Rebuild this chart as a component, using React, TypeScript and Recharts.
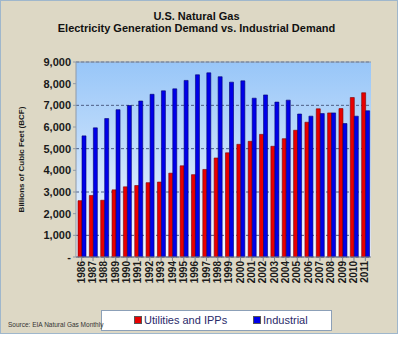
import { BarChart, Bar, XAxis, YAxis, CartesianGrid, ReferenceLine } from 'recharts'

const years = [
  '1986', '1987', '1988', '1989', '1990', '1991', '1992', '1993', '1994',
  '1995', '1996', '1997', '1998', '1999', '2000', '2001', '2002', '2003',
  '2004', '2005', '2006', '2007', '2008', '2009', '2010', '2011',
]

const utilities = [
  2600, 2840, 2620, 3100, 3240, 3300, 3430, 3460, 3870, 4210, 3800, 4040, 4570,
  4810, 5200, 5340, 5660, 5110, 5460, 5850, 6220, 6840, 6650, 6850, 7360, 7580,
]

const industrial = [
  5590, 5960, 6390, 6800, 6990, 7200, 7510, 7670, 7760, 8150, 8410, 8500, 8320,
  8070, 8130, 7330, 7480, 7150, 7240, 6600, 6500, 6620, 6650, 6160, 6500, 6750,
]

const yTicks = [0, 1000, 2000, 3000, 4000, 5000, 6000, 7000, 8000, 9000]

const legendItems = [
  { label: 'Utilities and IPPs', color: '#e80000' },
  { label: 'Industrial', color: '#0000e8' },
]

const data = years.map((y, i) => ({ year: y, util: utilities[i], ind: industrial[i] }))

const font = '"Liberation Sans", Arial, sans-serif'

function fmtY(v: number): string {
  return v === 0 ? '-' : v.toLocaleString('en-US')
}

export default function App() {
  return (
    <div style={{ position: 'fixed', left: 0, top: 0, width: 400, height: 337, background: '#fff' }}>
      <div
        style={{
          position: 'absolute',
          left: 0,
          top: 0,
          width: 396,
          height: 332,
          background: '#ddd8c5',
          border: '1px solid #9fb7cc',
          fontFamily: font,
        }}
      >
        <div
          style={{
            position: 'absolute',
            left: 0,
            width: 391,
            top: 9,
            textAlign: 'center',
            fontWeight: 'bold',
            fontSize: 11,
            lineHeight: '12px',
            color: '#111',
          }}
        >
          <div>U.S. Natural Gas</div>
          <div>Electricity Generation Demand vs. Industrial Demand</div>
        </div>

        <BarChart
          width={396}
          height={332}
          data={data}
          margin={{ top: 61, right: 26, left: 0, bottom: 0 }}
          barGap={0}
          barSize={4}
        >
          <defs>
            <linearGradient id="plotBg" x1="0" y1="0" x2="0" y2="1">
              <stop offset="0%" stopColor="#98c6f8" />
              <stop offset="100%" stopColor="#f4f9ff" />
            </linearGradient>
          </defs>
          <CartesianGrid
            vertical={false}
            fill="url(#plotBg)"
            stroke="#4d5f86"
            strokeDasharray="3 2"
          />
          <ReferenceLine y={9000} stroke="#8f9aa8" />
          <XAxis
            dataKey="year"
            interval={0}
            height={76}
            stroke="#7a8490"
            tickSize={4}
            tick={{ angle: -90, textAnchor: 'end', dx: -4, dy: -2, fontSize: 10, fontWeight: 'bold', fill: '#1a1a1a', fontFamily: font }}
          />
          <YAxis
            domain={[0, 9000]}
            ticks={yTicks}
            width={75}
            stroke="#8f9aa8"
            tickSize={3}
            tickFormatter={fmtY}
            tick={{ fontSize: 11, fontWeight: 'bold', fill: '#1a1a1a', fontFamily: font }}
            label={{
              value: 'Billions of Cubic Feet (BCF)',
              angle: -90,
              position: 'insideLeft',
              offset: 20,
              style: { fontSize: 8, fontWeight: 'bold', fill: '#1a1a1a', textAnchor: 'middle', fontFamily: font },
            }}
          />
          <YAxis yAxisId="r" orientation="right" width={0} tick={false} stroke="#b8c4d0" domain={[0, 9000]} />
          <Bar dataKey="util" fill="#e80000" stroke="#7a0000" strokeWidth={0.6} isAnimationActive={false} />
          <Bar dataKey="ind" fill="#0000e8" stroke="#000070" strokeWidth={0.6} isAnimationActive={false} />
        </BarChart>

        <div
          style={{
            position: 'absolute',
            left: 100,
            top: 309,
            width: 229,
            height: 19,
            background: '#fff',
            border: '1px solid #8ca0b8',
          }}
        >
          {legendItems.map((it, i) => (
            <div
              key={it.label}
              style={{
                position: 'absolute',
                left: i === 0 ? 32 : 151,
                top: 3,
                fontSize: 11,
                lineHeight: '13px',
                color: '#2a2a6a',
                whiteSpace: 'nowrap',
              }}
            >
              <span
                style={{
                  display: 'inline-block',
                  width: 6,
                  height: 6,
                  background: it.color,
                  border: '1px solid #555',
                  marginRight: 2,
                  verticalAlign: 'middle',
                  position: 'relative',
                  top: -1,
                }}
              />
              {it.label}
            </div>
          ))}
        </div>

        <div
          style={{
            position: 'absolute',
            left: 7,
            top: 320,
            fontSize: 6.5,
            color: '#333',
            whiteSpace: 'nowrap',
          }}
        >
          Source: EIA Natural Gas Monthly
        </div>
      </div>
    </div>
  )
}
